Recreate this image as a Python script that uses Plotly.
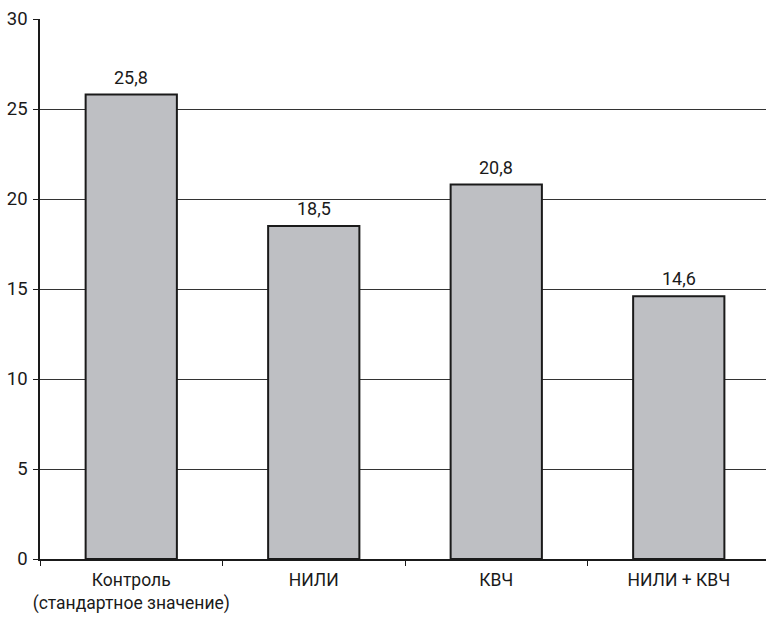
import plotly.graph_objects as go

categories = ["Контроль<br>(стандартное значение)", "НИЛИ", "КВЧ", "НИЛИ + КВЧ"]
values = [25.8, 18.5, 20.8, 14.6]
value_labels = ["25,8", "18,5", "20,8", "14,6"]
y_ticks = [0, 5, 10, 15, 20, 25, 30]

FONT = "Liberation Sans Narrow, Arial Narrow, Roboto, sans-serif"

fig = go.Figure()
fig.add_trace(go.Bar(
    x=categories, y=values, width=0.5,
    marker=dict(color="#bebfc3", line=dict(color="#1a1a1a", width=2)),
    hoverinfo="skip",
))
for c, v, t in zip(categories, values, value_labels):
    fig.add_annotation(x=c, y=v, text=t, showarrow=False, yanchor="bottom",
                       yshift=5, font=dict(family=FONT, size=18, color="#1a1a1a"))

fig.update_layout(
    width=766, height=618,
    margin=dict(l=40, r=0, t=19, b=59),
    paper_bgcolor="white", plot_bgcolor="white",
    showlegend=False,
    font=dict(family=FONT, size=17, color="#1a1a1a"),
    xaxis=dict(
        type="category", range=[-0.5, 3.478], automargin=False, tickangle=0,
        tickson="boundaries", ticks="outside", ticklen=5, tickcolor="#1a1a1a",
        showline=True, linecolor="#1a1a1a", linewidth=1.5,
        showgrid=False, tickfont=dict(size=17.5), ticklabelstandoff=4,
    ),
    yaxis=dict(
        range=[0, 30], tickvals=y_ticks, ticks="outside", ticklen=5, automargin=False,
        tickcolor="#1a1a1a", showline=True, linecolor="#1a1a1a", linewidth=1.5,
        showgrid=True, gridcolor="#333333", gridwidth=1, zeroline=False,
        tickfont=dict(size=18.5), ticklabelstandoff=2,
    ),
)
fig.write_html("out.html")
